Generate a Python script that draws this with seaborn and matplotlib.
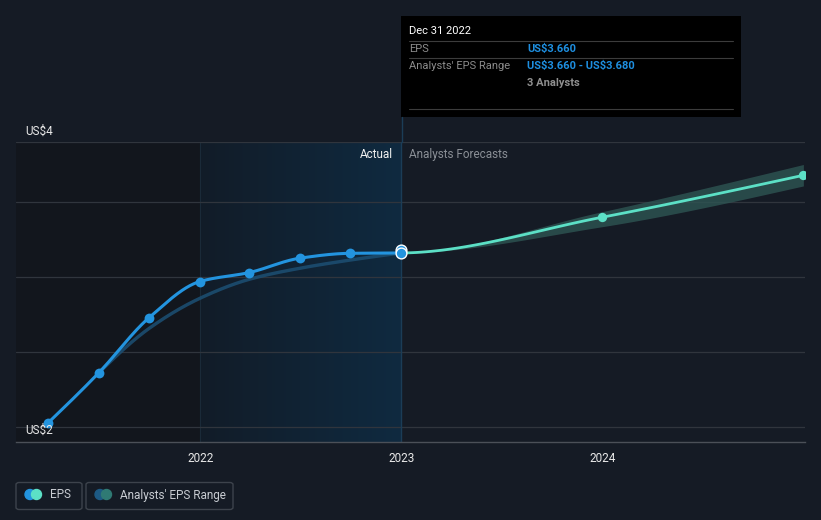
import numpy as np
import pandas as pd
import matplotlib
matplotlib.use("Agg")
import matplotlib.pyplot as plt
import matplotlib.dates as mdates
from matplotlib.patches import Rectangle, FancyBboxPatch, Ellipse
from matplotlib.lines import Line2D
import seaborn as sns

# data
eps_dates = ["2021-03-31", "2021-06-30", "2021-09-30", "2021-12-31",
             "2022-03-31", "2022-06-30", "2022-09-30", "2022-12-31"]
eps_actual = [2.53, 2.86, 3.23, 3.47, 3.53, 3.625, 3.658, 3.66]

past_est = [2.86, 3.158, 3.358, 3.485, 3.558, 3.613, 3.66]  # from Jun 2021

fc_dates = ["2022-12-31", "2023-12-31", "2024-12-31"]
fc_eps = [3.66, 3.898, 4.178]
fc_low = [3.66, 3.835, 4.107]
fc_high = [3.68, 3.935, 4.25]

year_ticks = ["2022-01-01", "2023-01-01", "2024-01-01"]
year_labels = ["2022", "2023", "2024"]

BG = "#151b25"
BLUE = "#2394df"
TEAL = "#5ce0c6"
W, H = 821, 520


def fx(px):
    return px / W


def fy(py):
    return 1 - py / H


def smooth(x, y, n=40, keep_from=0):
    # monotone cubic curve for drawing (like the web chart's curveMonotoneX)
    x = np.asarray(x, float)
    y = np.asarray(y, float)
    h = np.diff(x)
    d = np.diff(y) / h
    m = np.zeros_like(y)
    for i in range(1, len(y) - 1):
        if d[i - 1] * d[i] > 0:
            w1 = 2 * h[i] + h[i - 1]
            w2 = h[i] + 2 * h[i - 1]
            m[i] = (w1 + w2) / (w1 / d[i - 1] + w2 / d[i])
    m[0] = (3 * d[0] - m[1]) / 2 if len(y) > 2 else d[0]
    m[-1] = (3 * d[-1] - m[-2]) / 2 if len(y) > 2 else d[-1]
    xs, ys = [], []
    for i in range(keep_from, len(h)):
        t = np.linspace(0, 1, n, endpoint=(i == len(h) - 1))
        h00 = 2 * t**3 - 3 * t**2 + 1
        h10 = t**3 - 2 * t**2 + t
        h01 = -2 * t**3 + 3 * t**2
        h11 = t**3 - t**2
        xs.append(x[i] + t * h[i])
        ys.append(h00 * y[i] + h10 * h[i] * m[i] + h01 * y[i + 1] + h11 * h[i] * m[i + 1])
    return np.concatenate(xs), np.concatenate(ys)


sns.set_style("dark")
plt.rcParams["font.family"] = ["Roboto", "DejaVu Sans"]

fig = plt.figure(figsize=(8.21, 5.2), dpi=100)
fig.patch.set_facecolor(BG)
ax = fig.add_axes([fx(16), fy(442), fx(805) - fx(16), fy(142) - fy(442)])
ax.set_facecolor(BG)

ex = mdates.date2num(pd.to_datetime(eps_dates))
fxs = mdates.date2num(pd.to_datetime(fc_dates))
ticks = mdates.date2num(pd.to_datetime(year_ticks))

ax.set_xlim(mdates.date2num(pd.Timestamp("2021-01-31")), mdates.date2num(pd.Timestamp("2025-01-03")))
ax.set_ylim(2.4, 4.4)

# past shading
ax.axvspan(ax.get_xlim()[0], ticks[0], color="#12161d", zorder=0, lw=0)
grad = np.linspace(0, 1, 256).reshape(1, -1)
cmap = matplotlib.colors.LinearSegmentedColormap.from_list("pastblue", ["#121c28", "#0f2a40"])
ax.imshow(grad, extent=[ticks[0], ex[-1], 2.4, 4.4], aspect="auto", cmap=cmap, zorder=0.5)
ax.axvline(ticks[0], color="#1a2a38", lw=0.8, zorder=0.6)

# gridlines
for g in [2.5, 3.0, 3.5, 4.0, 4.4]:
    ax.axhline(g, color="#30353d", lw=0.9, zorder=1)

# forecast band + line (spline also sees the previous actual for a smooth join)
bx, blo = smooth([ex[-2]] + list(fxs), [eps_actual[-2]] + fc_low, keep_from=1)
_, bhi = smooth([ex[-2]] + list(fxs), [eps_actual[-2]] + fc_eps[:1] + fc_high[1:], keep_from=1)
ax.fill_between(bx, blo, bhi, color="#2e5553", alpha=0.8, lw=0, zorder=2)
lx, ly = smooth([ex[-2]] + list(fxs), [eps_actual[-2]] + fc_eps, keep_from=1)
sns.lineplot(x=lx, y=ly, ax=ax, color=TEAL, lw=2, zorder=4, sort=False)
sns.scatterplot(x=fxs[1:], y=fc_eps[1:], ax=ax, color=TEAL, s=45, linewidth=0, zorder=5)

# past analyst estimates
px_, py_ = smooth(ex[1:], past_est)
sns.lineplot(x=px_, y=py_, ax=ax, color="#1c4d70", lw=2.4, alpha=0.9, zorder=3, sort=False)

# actual EPS
ax_, ay_ = smooth(ex, eps_actual)
sns.lineplot(x=ax_, y=ay_, ax=ax, color=BLUE, lw=2.2, zorder=6, sort=False)
sns.scatterplot(x=ex[:-1], y=eps_actual[:-1], ax=ax, color=BLUE, s=50, linewidth=0, zorder=7)
ax.scatter([ex[-1]], [fc_high[0]], s=60, color=BLUE, edgecolor="white", linewidth=1, zorder=7)
ax.scatter([ex[-1]], [eps_actual[-1]], s=60, color=BLUE, edgecolor="white", linewidth=1, zorder=8)

# axes styling
for s in ["top", "right", "left"]:
    ax.spines[s].set_visible(False)
ax.spines["bottom"].set_color("#4b5058")
ax.spines["bottom"].set_linewidth(1)
ax.set_yticks([])
ax.set_xticks(ticks)
ax.set_xticklabels(year_labels)
ax.tick_params(axis="x", colors="#4b5058", length=4, width=1, pad=3, labelsize=8.5, labelcolor="#e8e8e8")
ax.grid(False)

fig.text(fx(25), fy(131), "US\\$4", color="#e8e8e8", fontsize=8.5, va="center", ha="left")
fig.text(fx(25), fy(430), "US\\$2", color="#e8e8e8", fontsize=8.5, va="center", ha="left")
fig.text(fx(393), fy(154), "Actual", color="#f0f0f0", fontsize=8.5, va="center", ha="right")
fig.text(fx(409), fy(154), "Analysts Forecasts", color="#8a8f96", fontsize=8.5, va="center", ha="left")

# hover line + tooltip
fig.add_artist(Line2D([fx(402), fx(402)], [fy(117), fy(142)], color="#1b3d57", lw=1))
ax.axvline(ex[-1], color="#1b3d57", lw=1, zorder=1.5)
fig.add_artist(Rectangle((fx(401), fy(117)), fx(741) - fx(401), fy(16) - fy(117),
                         facecolor="black", edgecolor="none"))
for yy in [41.3, 58.3, 109.3]:
    fig.add_artist(Line2D([fx(409), fx(733)], [fy(yy), fy(yy)], color="#3c3c3c", lw=0.8))
fig.text(fx(409), fy(31), "Dec 31 2022", color="white", fontsize=8, va="center")
fig.text(fx(409), fy(49), "EPS", color="#8c8c8c", fontsize=8, va="center")
fig.text(fx(527), fy(49), "US\\$3.660", color="#1e8fe0", fontsize=8, va="center", weight="bold")
fig.text(fx(409), fy(66), "Analysts' EPS Range", color="#8c8c8c", fontsize=8, va="center")
fig.text(fx(527), fy(66), "US\\$3.660 - US\\$3.680", color="#1e8fe0", fontsize=8, va="center", weight="bold")
fig.text(fx(527), fy(83), "3 Analysts", color="#8f8f8f", fontsize=8, va="center", weight="bold")

# legend
for x0, x1, c1, c2, label in [(16, 82, BLUE, TEAL, "EPS"),
                              (86, 233, "#1d5a84", "#2f7a74", "Analysts' EPS Range")]:
    fig.add_artist(FancyBboxPatch((fx(x0), fy(509.5)), fx(x1) - fx(x0), fy(482.5) - fy(509.5),
                                  boxstyle="round,pad=0,rounding_size=0.004",
                                  facecolor="none", edgecolor="#3d434c", lw=1))
    fig.add_artist(Ellipse((fx(x0 + 14), fy(494.5)), 10 / W, 10 / H, color=c1))
    fig.add_artist(Ellipse((fx(x0 + 20.5), fy(494.5)), 10 / W, 10 / H, color=c2))
    fig.text(fx(x0 + 34), fy(495), label, color="#c8ccd2", fontsize=8.5, va="center")

fig.savefig("out.png", dpi=100, facecolor=BG)
